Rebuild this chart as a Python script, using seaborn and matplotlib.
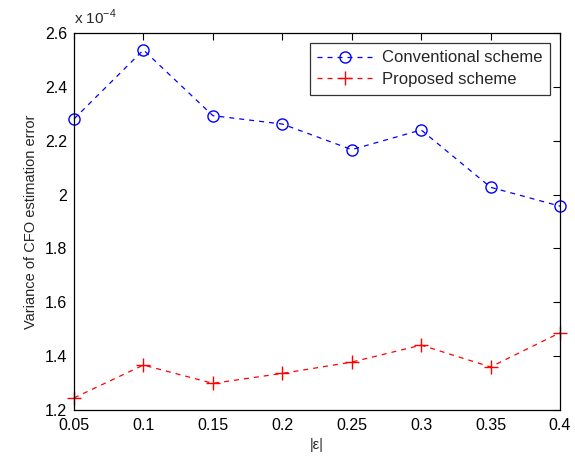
import matplotlib
matplotlib.use("Agg")
import matplotlib.pyplot as plt
import seaborn as sns
import pandas as pd
import numpy as np
from matplotlib.ticker import FuncFormatter

eps = [0.05, 0.1, 0.15, 0.2, 0.25, 0.3, 0.35, 0.4]
conventional = [2.281e-4, 2.537e-4, 2.293e-4, 2.262e-4, 2.167e-4, 2.240e-4, 2.027e-4, 1.957e-4]
proposed = [1.245e-4, 1.367e-4, 1.299e-4, 1.336e-4, 1.378e-4, 1.441e-4, 1.360e-4, 1.487e-4]
xtick_labels = ["0.05", "0.1", "0.15", "0.2", "0.25", "0.3", "0.35", "0.4"]
yticks = [1.2e-4, 1.4e-4, 1.6e-4, 1.8e-4, 2.0e-4, 2.2e-4, 2.4e-4, 2.6e-4]

sns.set_style("white")
plt.rcParams['font.family'] = ['Liberation Sans', 'DejaVu Sans']
plt.rcParams['mathtext.fontset'] = 'custom'
plt.rcParams['mathtext.rm'] = 'Liberation Sans'

df = pd.DataFrame({
    "eps": eps * 2,
    "val": conventional + proposed,
    "scheme": ["Conventional scheme"] * len(eps) + ["Proposed scheme"] * len(eps),
})

fig = plt.figure(figsize=(5.75, 4.57), dpi=100)
ax = fig.add_axes([0.1287, 0.1028, 0.974 - 0.1287, 0.9278 - 0.1028])

sns.lineplot(data=df[df.scheme == "Conventional scheme"], x="eps", y="val", ax=ax,
             color="blue", marker="o", markersize=8, markerfacecolor="none",
             markeredgecolor="blue", markeredgewidth=1.0, linewidth=0.9,
             linestyle=(0, (4, 4)), label="Conventional scheme", clip_on=False)
sns.lineplot(data=df[df.scheme == "Proposed scheme"], x="eps", y="val", ax=ax,
             color="red", marker="+", markersize=10, markeredgecolor="red",
             markeredgewidth=1.0, linewidth=0.9,
             linestyle=(0, (4, 4)), label="Proposed scheme", clip_on=False)

ax.set_xlim(0.05, 0.4)
ax.set_ylim(1.2e-4, 2.6e-4)
ax.set_xticks(eps)
ax.set_xticklabels(xtick_labels)
ax.set_yticks(yticks)
ax.yaxis.set_major_formatter(FuncFormatter(lambda v, p: f"{v * 1e4:.1f}".rstrip("0").rstrip(".")))
ax.text(0.0, 1.015, "x 10$^{-4}$", transform=ax.transAxes, fontsize=11,
        ha="left", va="bottom")

ax.tick_params(direction="in", length=5, width=0.8, top=True, right=True,
               labelsize=11.5, colors="black")
ax.tick_params(axis="x", pad=6)
ax.tick_params(axis="y", pad=5)
for s in ax.spines.values():
    s.set_color("black")
    s.set_linewidth(0.9)

ax.set_xlabel("|ε|", fontsize=10.5, labelpad=3)
ax.set_ylabel("Variance of CFO estimation error", fontsize=10.5, labelpad=5)

leg = ax.legend(loc="upper right", fontsize=12, frameon=True, fancybox=False,
                edgecolor="black", borderaxespad=0.6, handlelength=3.3,
                labelspacing=0.4, borderpad=0.45, handletextpad=0.6)
leg.get_frame().set_linewidth(0.9)

fig.savefig("out.png", dpi=100)
